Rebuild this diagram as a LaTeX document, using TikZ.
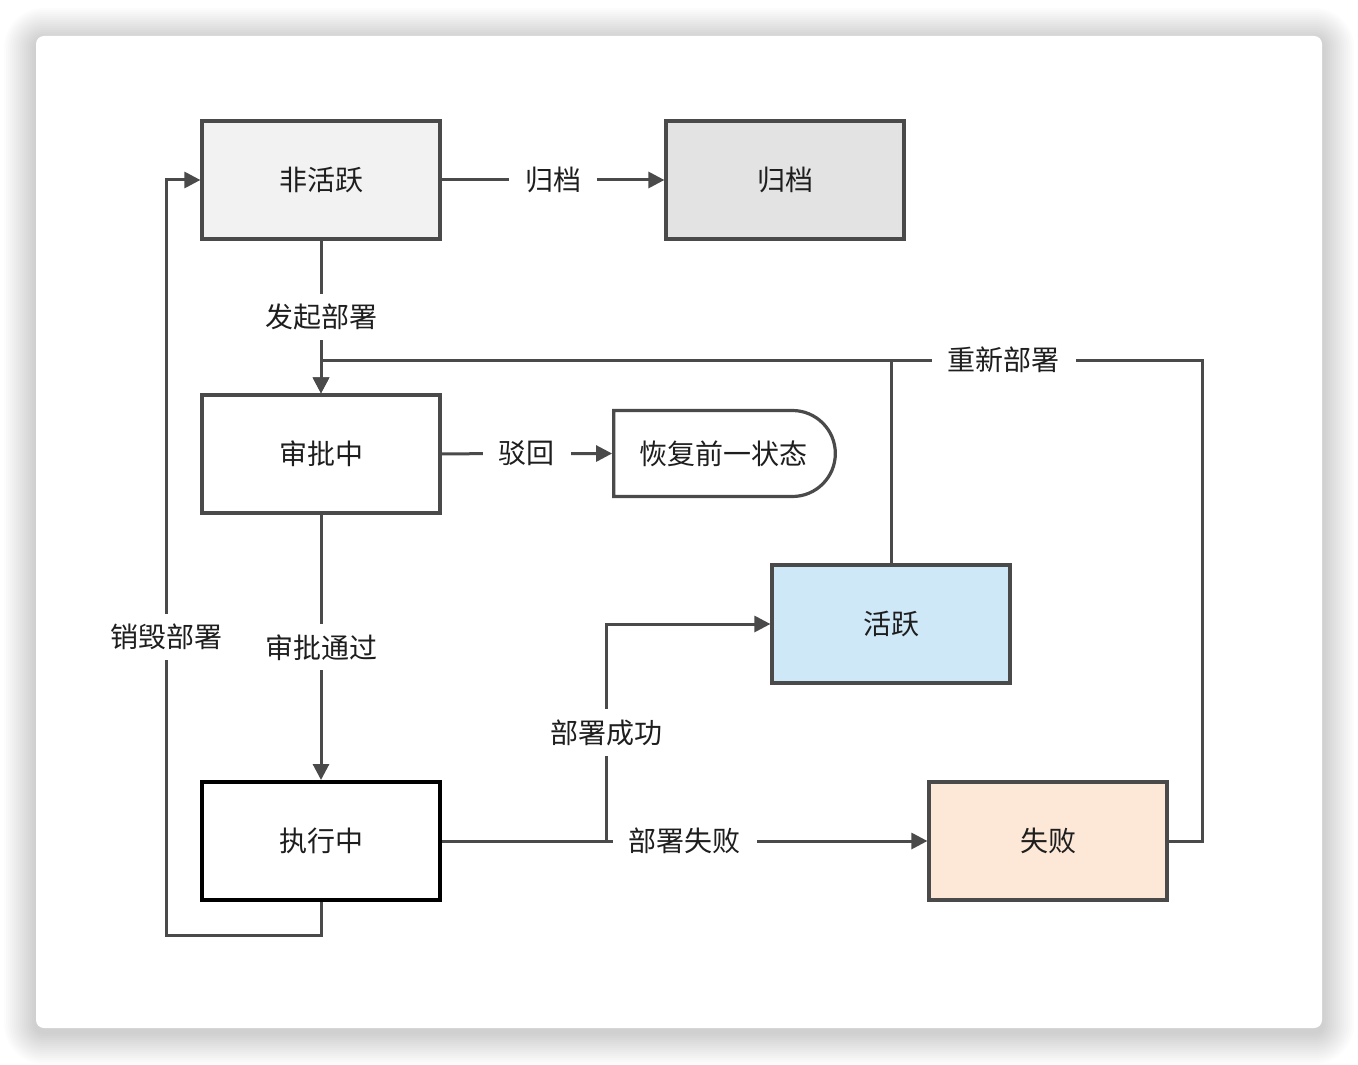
\documentclass[tikz,border=0pt]{standalone}
\usepackage{fontspec}
\setmainfont{Noto Sans CJK SC}
\usetikzlibrary{arrows.meta,shapes.misc}
\definecolor{linegray}{HTML}{4A4A4A}
\definecolor{textdark}{HTML}{1E1E1E}
\definecolor{idlegray}{HTML}{F2F2F2}
\definecolor{archgray}{HTML}{E3E3E3}
\definecolor{liveblue}{HTML}{CFE8F8}
\definecolor{failpeach}{HTML}{FDE8D8}

\begin{document}
\begin{tikzpicture}[x=0.5pt,y=-0.5pt,
  state/.style={draw=linegray, line width=1.6pt, minimum width=119pt, minimum height=59pt,
    font=\fontsize{14}{16}\selectfont, text=textdark},
  link/.style={draw=linegray, line width=1.5pt},
  flow/.style={link, -{Triangle[length=8pt,width=8pt]}},
  tag/.style={fill=white, font=\fontsize{14}{16}\selectfont, text=textdark,
    inner xsep=8pt, inner ysep=5pt}]
  \useasboundingbox (0,0) rectangle (1358,1064);
  % card with soft shadow
  \foreach \i in {1,...,16}
    \fill[black, opacity=0.011, rounded corners={4pt+\i*1pt}]
      (36-2*\i,36-2*\i+4) rectangle (1322+2*\i,1028+2*\i+4);
  \fill[white, rounded corners=4pt] (36,36) rectangle (1322,1028);

  % states
  \node[state, fill=idlegray] (inact) at (321,180) {非活跃};
  \node[state, fill=archgray] (arch) at (785,180) {归档};
  \node[state, fill=white] (review) at (321,454) {审批中};
  \node[state, fill=white, rounded rectangle, rounded rectangle left arc=none,
    minimum width=117.5pt, minimum height=43pt] (restore) at (723.5,453.5) {恢复前一状态};
  \node[state, fill=liveblue] (active) at (891,624) {活跃};
  \node[state, fill=white, draw=black, line width=2pt] (run) at (321,841) {执行中};
  \node[state, fill=failpeach] (fail) at (1048,841) {失败};

  \coordinate (split) at (606,841);
  \coordinate (loopR) at (1202,360);
  \coordinate (merge) at (321,360);
  \coordinate (loopL) at (166,935);

  % transitions
  \draw[flow] (inact) -- node[tag] {归档} (arch);
  \draw[flow] (inact) -- node[tag] {发起部署} (review);
  \draw[flow] (review) -- node[tag] {驳回} (restore.west);
  \draw[flow] (review) -- node[tag] {审批通过} (run);
  \draw[flow] (run) -- node[tag] {部署失败} (fail);
  \draw[flow] (split) |- node[tag, pos=0.25] {部署成功} (active.west);
  \draw[link] (active.north) -- (active.north |- merge);
  \draw[flow] (fail.east) -| (loopR) -- node[tag, pos=0.225] {重新部署} (merge) -- (review.north);
  \draw[flow] (run.south) |- (loopL) -- node[tag, pos=0.395] {销毁部署} (loopL |- inact) -- (inact.west);
\end{tikzpicture}
\end{document}
